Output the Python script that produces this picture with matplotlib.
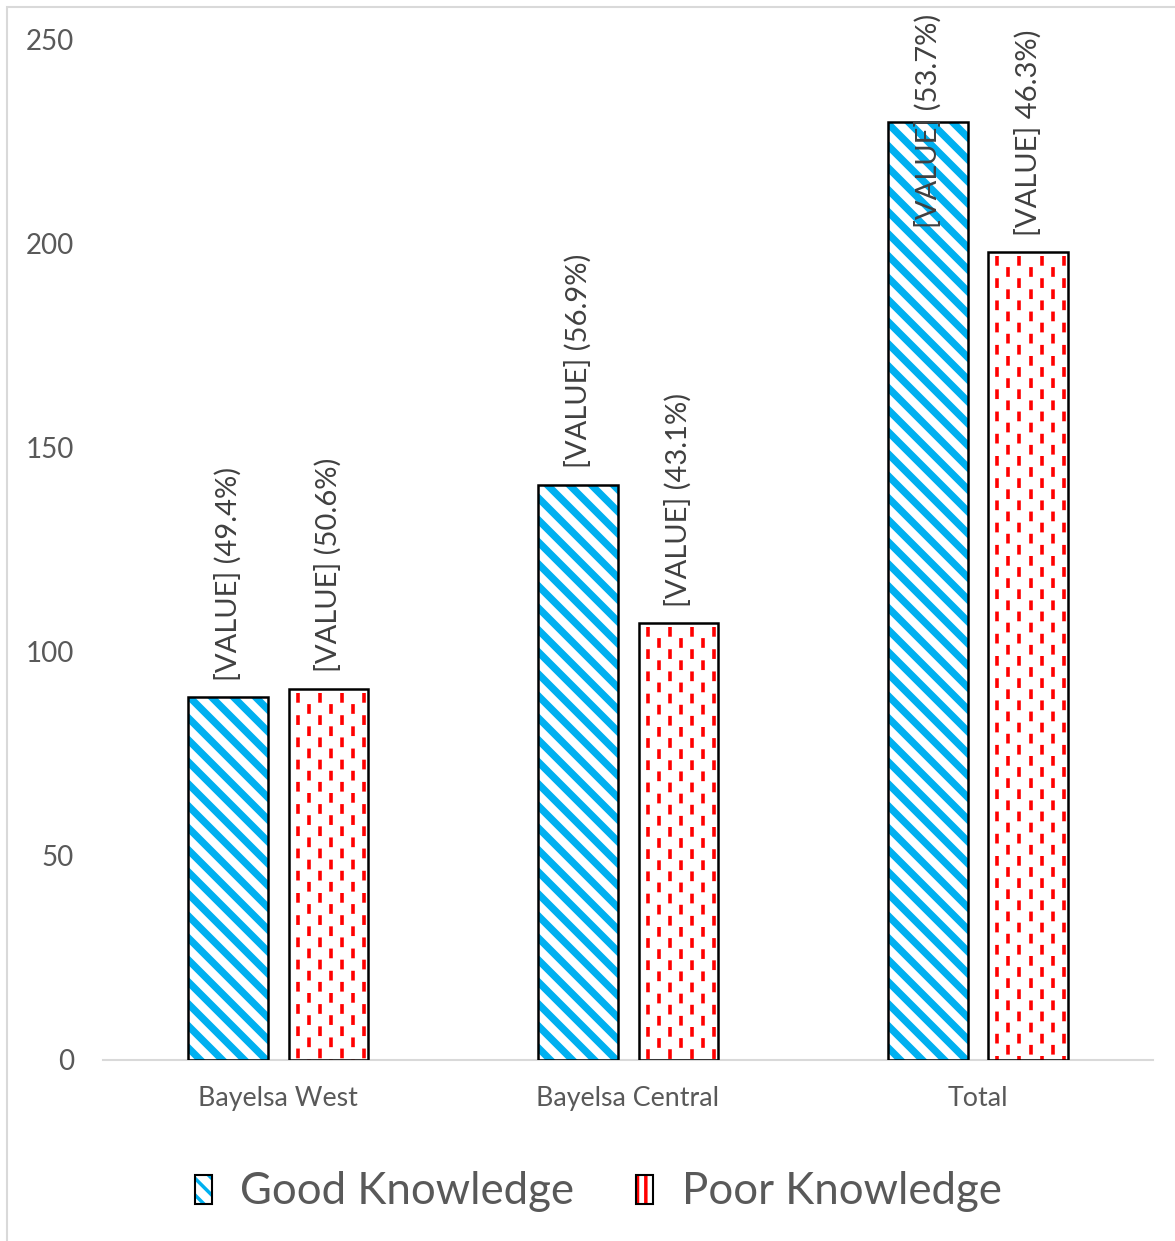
import numpy as np
import matplotlib
matplotlib.use("Agg")
import matplotlib.pyplot as plt
from matplotlib.patches import Patch, Rectangle
from matplotlib.legend_handler import HandlerTuple
from matplotlib.lines import Line2D
from matplotlib.transforms import IdentityTransform

plt.rcParams['font.family'] = ['Lato', 'DejaVu Sans']
plt.rcParams['lines.scale_dashes'] = False
plt.rcParams['hatch.linewidth'] = 2.5

# data
districts = ['Bayelsa West', 'Bayelsa Central', 'Total']
good = [89, 141, 230]
poor = [91, 107, 198]
good_pct = ['(49.4%)', '(56.9%)', '(53.7%)']
poor_pct = ['(50.6%)', '(43.1%)', '46.3%)']
series_names = ['Good Knowledge', 'Poor Knowledge']

blue = '#00B0F0'
red = '#FF0000'
txt = '#595959'

fig = plt.figure(figsize=(11.75, 12.41), dpi=100)
ax = fig.add_axes([103 / 1175, 1 - 1060 / 1241, 1050 / 1175, 1020 / 1241])

# light chart-area border
fig.patches.append(Rectangle((7 / 1175, -0.01), 1.02, 1 - 7 / 1241 + 0.01,
                             transform=fig.transFigure, fill=False,
                             edgecolor='#D9D9D9', lw=1.5, zorder=0))

x = np.arange(len(districts))
w = 0.226
off = 0.143

ax.set_xlim(-0.5, 2.5)
ax.set_ylim(0, 250)

# white fill below, pattern in between, black outline on top
good_bars = ax.bar(x - off, good, w, facecolor='white', edgecolor='none', zorder=2)
poor_bars = ax.bar(x + off, poor, w, facecolor='white', edgecolor='none', zorder=2)
ax.bar(x - off, good, w, facecolor='none', edgecolor='black', lw=1.8, zorder=4)
ax.bar(x + off, poor, w, facecolor='none', edgecolor='black', lw=1.8, zorder=4)

fig.canvas.draw()
px = ax.transData


def stripe_bar(bar):
    # blue diagonal stripes drawn in pixel space, clipped to the bar
    (x0, y0) = px.transform((bar.get_x(), 0))
    (x1, y1) = px.transform((bar.get_x() + bar.get_width(), bar.get_height()))
    step = 22
    h = y1 - y0 + 20
    s = x0 - h
    while s < x1 + 20:
        ln = Line2D([s, s + h], [y1 + 10, y1 + 10 - h], color=blue, lw=5.2,
                    transform=IdentityTransform(), zorder=3, solid_capstyle='butt')
        ax.add_line(ln)
        ln.set_clip_path(bar)
        s += step


def dash_bar(bar):
    # red dashed vertical lines, alternate columns shifted by half a period
    (x0, y0) = px.transform((bar.get_x(), 0))
    (x1, y1) = px.transform((bar.get_x() + bar.get_width(), bar.get_height()))
    cx = x0 + 9
    i = 0
    while cx < x1 - 2:
        ln = Line2D([cx, cx], [y1 - 4, y0], color=red, lw=2.6,
                    transform=IdentityTransform(), zorder=3, solid_capstyle='butt',
                    dash_capstyle='butt',
                    linestyle=(0 if i % 2 == 0 else 8, (7, 9)))
        ax.add_line(ln)
        ln.set_clip_path(bar)
        cx += 11
        i += 1


for b in good_bars:
    stripe_bar(b)
for b in poor_bars:
    dash_bar(b)

# data labels, kept inside the chart area like Excel does
for i in range(len(districts)):
    ax.text(x[i] - off, min(good[i] + 4, 204), '[VALUE] ' + good_pct[i], rotation=90,
            ha='center', va='bottom', fontsize=21, color='#404040', zorder=5, clip_on=False)
    ax.text(x[i] + off, min(poor[i] + 4, 204), '[VALUE] ' + poor_pct[i], rotation=90,
            ha='center', va='bottom', fontsize=21, color='#404040', zorder=5, clip_on=False)

ax.set_xticks(x)
ax.set_xticklabels(districts, fontsize=19.3, color=txt)
ax.set_yticks([0, 50, 100, 150, 200, 250])
ax.tick_params(axis='y', labelsize=20, labelcolor=txt, length=0, pad=21)
ax.tick_params(axis='x', length=0, pad=19)
for sp in ['top', 'right', 'left']:
    ax.spines[sp].set_visible(False)
ax.spines['bottom'].set_color('#D9D9D9')
ax.spines['bottom'].set_linewidth(1.5)

h_good = (Patch(facecolor='white', edgecolor=blue, hatch='\\\\', lw=0),
          Patch(facecolor='none', edgecolor='black', lw=1.5))
h_poor = (Patch(facecolor='white', edgecolor=red, hatch='||', lw=0),
          Patch(facecolor='none', edgecolor='black', lw=1.5))
fig.legend([h_good, h_poor], series_names, loc='center', bbox_to_anchor=(598 / 1175, 1 - 1192 / 1241),
           ncol=2, frameon=False, fontsize=31.5, labelcolor=txt,
           handlelength=0.4, handleheight=0.65, handletextpad=0.65, columnspacing=1.4,
           handler_map={tuple: HandlerTuple(ndivide=1, pad=0)})

fig.savefig('out.png', dpi=100)
